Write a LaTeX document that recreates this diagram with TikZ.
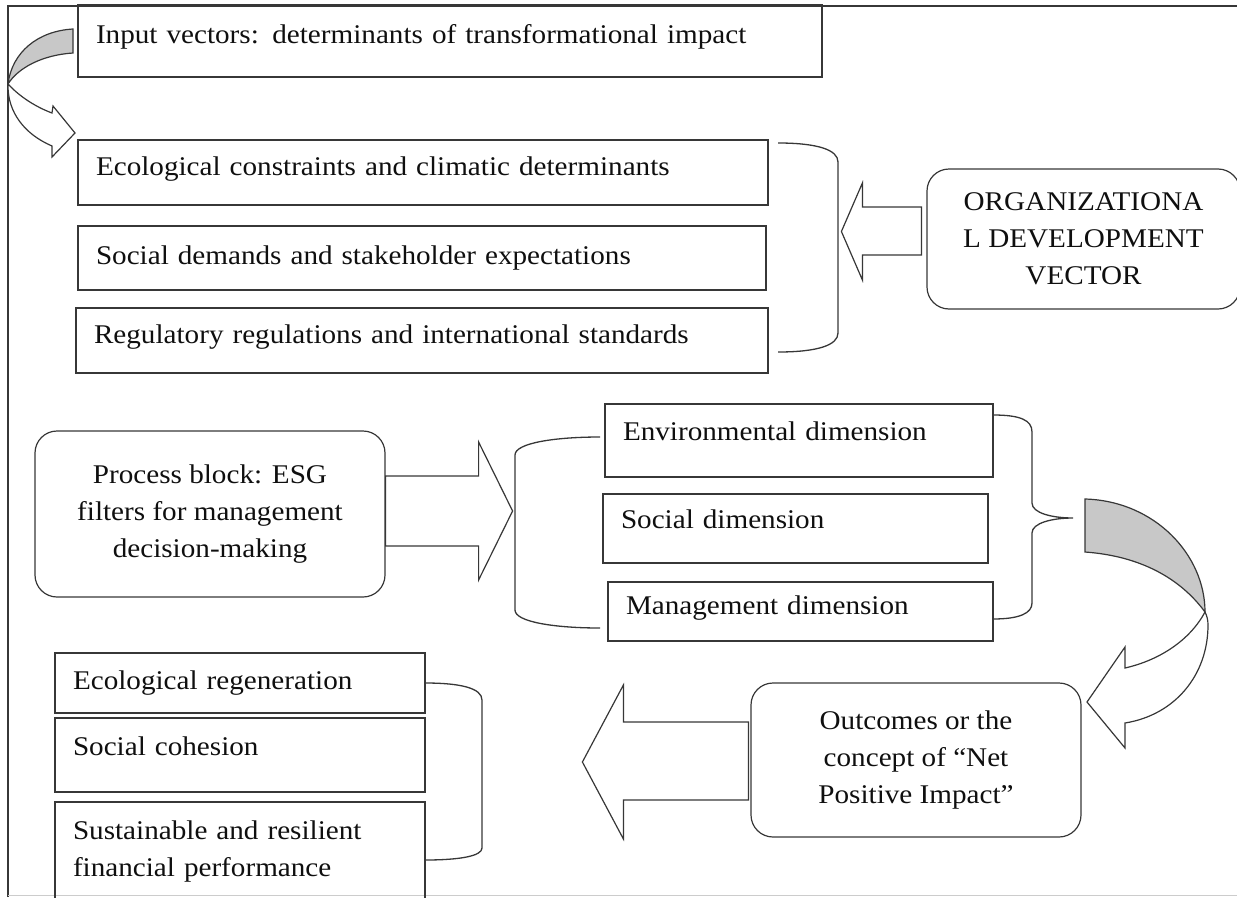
\documentclass[tikz,border=0pt]{standalone}
\usepackage{fontspec}
\setmainfont{Liberation Serif}[FakeStretch=1.08]
\definecolor{linegray}{RGB}{55,55,55}
\definecolor{textgray}{RGB}{15,15,15}
\definecolor{shade}{RGB}{200,200,200}
\begin{document}
\begin{tikzpicture}[x=1pt,y=-1pt,
  box/.style={draw=linegray,line width=1.2pt,inner xsep=18pt,align=left,text=textgray,font=\fontsize{27}{37}\selectfont},
  rbox/.style={box,rounded corners=22pt,align=center},
  barrow/.style={draw=linegray,line width=1.2pt,fill=white,line join=miter},
  brace/.style={draw=linegray,line width=1.3pt}]
\useasboundingbox (0,0) rectangle (1237,897);
\draw[linegray,line width=1.6pt] (8,897) -- (8,6) -- (1237,6);
\draw[black!20,line width=1pt] (8,895) -- (1237,895);
\node[box,text width=708pt,minimum height=72pt,text depth=14pt] (inbox) at (450,41) {Input vectors: determinants of transformational impact};
\node[box,text width=654pt,minimum height=65pt,text depth=12pt] (eco) at (423,172.5) {Ecological constraints and climatic determinants};
\node[box,text width=652pt,minimum height=64pt] (soc) at (422,258) {Social demands and stakeholder expectations};
\node[box,text width=656pt,minimum height=65pt,text depth=12pt] (reg) at (422,340.5) {Regulatory regulations and international standards};
\node[rbox,minimum width=313pt,minimum height=140pt] (org) at (1083.5,239) {ORGANIZATIONA\\L DEVELOPMENT\\VECTOR};
\node[rbox,minimum width=350pt,minimum height=166pt] (proc) at (210,514) {Process block: ESG\\filters for management\\decision-making};
\node[box,text width=352pt,minimum height=73pt,text depth=18pt] (env) at (799,440.5) {Environmental dimension};
\node[box,text width=349pt,minimum height=69pt,text depth=18pt] (sdim) at (795.5,528.5) {Social dimension};
\node[box,text width=349pt,minimum height=59pt,text depth=12pt] (mgmt) at (800.5,611.5) {Management dimension};
\node[rbox,minimum width=330pt,minimum height=154pt] (outc) at (916,760) {Outcomes or the\\concept of “Net\\Positive Impact”};
\node[box,text width=334pt,minimum height=60pt] (regen) at (240,683) {Ecological regeneration};
\node[box,text width=334pt,minimum height=74pt,text depth=18pt] (cohes) at (240,755) {Social cohesion};
\node[box,text width=334pt,minimum height=98pt] (finperf) at (240,851) {Sustainable and resilient\\financial performance};
\draw[brace] (778,143) .. controls (818,143) and (838,150) .. (838,162) -- (838,333) .. controls (838,345) and (818,352) .. (778,352);
\draw[brace] (600,437) .. controls (555,437) and (515,443) .. (515,455) -- (515,610) .. controls (515,622) and (555,628) .. (600,628);
\draw[brace] (993,415) .. controls (1020,415) and (1032,420) .. (1032,432) -- (1032,503) .. controls (1032,513) and (1052,518) .. (1073,518) .. controls (1052,518) and (1032,523) .. (1032,533) -- (1032,603) .. controls (1032,613) and (1020,619) .. (993,619);
\draw[brace] (425,683) .. controls (460,683) and (482,688) .. (482,700) -- (482,848) .. controls (482,856) and (460,860) .. (425,860);
\draw[barrow] (org.west) ++(-5,-32) -- ++(-59,0) -- ++(0,-24) -- ++(-21,48.5) -- ++(21,48.5) -- ++(0,-25) -- ++(59,0) -- cycle;
\draw[barrow] (proc.east) ++(0,-38) -- ++(93,0) -- ++(0,-34) -- ++(34,69) -- ++(-34,69) -- ++(0,-34) -- ++(-93,0) -- cycle;
\draw[barrow] (outc.west) ++(-2,-38) -- ++(-125,0) -- ++(0,-37) -- ++(-41,77) -- ++(41,77) -- ++(0,-39) -- ++(125,0) -- cycle;
\draw[barrow,fill=shade] (73,29) .. controls (38,31) and (12,52) .. (8,84) .. controls (18,68) and (42,55) .. (73,53) -- cycle;
\draw[barrow] (8,84) .. controls (20,97) and (36,107) .. (52,113) -- (53,106) -- (75,133) -- (52,157) -- (52,146) .. controls (24,134) and (8,112) .. (8,86) -- cycle;
\draw[barrow,fill=shade] (1085,499) .. controls (1155,501) and (1205,555) .. (1205,612) .. controls (1180,578) and (1140,556) .. (1085,552) -- cycle;
\draw[barrow] (1205,612) .. controls (1190,640) and (1160,660) .. (1125,668) -- (1125,647) -- (1087,702) -- (1125,748) -- (1125,723) .. controls (1175,715) and (1208,675) .. (1208,625) .. controls (1208,620) and (1207,616) .. (1205,612) -- cycle;
\end{tikzpicture}
\end{document}
